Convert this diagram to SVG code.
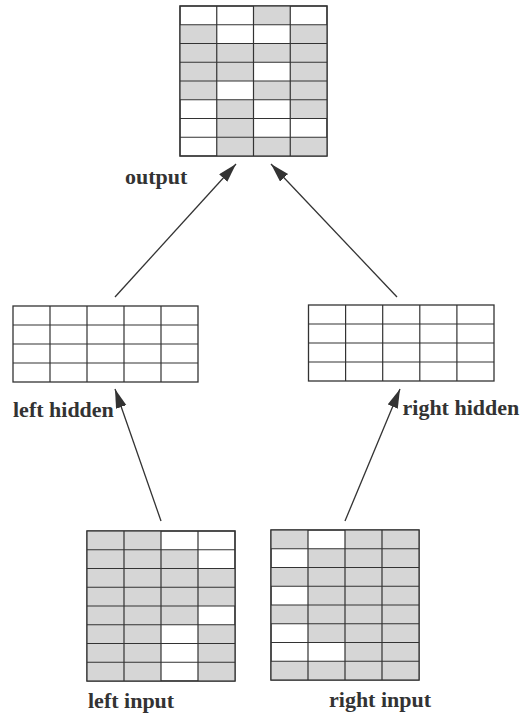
<svg xmlns="http://www.w3.org/2000/svg" width="520" height="715" viewBox="0 0 520 715">
  <style>
    .frame { fill: #ffffff; stroke: #333333; stroke-width: 1.3; }
    .grid { fill: none; stroke: #333333; stroke-width: 1.2; }
    .on { fill: #d6d6d6; }
    .label { font-family: "Liberation Serif", "Times New Roman", serif; font-weight: bold; font-size: 22px; fill: #333333; }
    .link { stroke: #333333; stroke-width: 1.3; fill: none; marker-end: url(#head); }
  </style>
  <defs>
    <marker id="head" markerUnits="userSpaceOnUse" markerWidth="20" markerHeight="12" refX="19" refY="5.5" orient="auto">
      <path d="M0,0 L19,5.5 L0,11 z" fill="#333333"/>
    </marker>
  </defs>
  <rect width="520" height="715" fill="#ffffff"/>

  <!-- output layer: 4 x 8 units -->
  <g id="output" transform="translate(180,6)">
    <rect class="frame" x="0" y="0" width="147" height="150"/>
    <rect class="on" x="73.5" y="0" width="36.75" height="18.75"/>
    <rect class="on" x="0" y="18.75" width="36.75" height="18.75"/>
    <rect class="on" x="110.25" y="18.75" width="36.75" height="18.75"/>
    <rect class="on" x="0" y="37.5" width="147" height="18.75"/>
    <rect class="on" x="0" y="56.25" width="73.5" height="18.75"/>
    <rect class="on" x="110.25" y="56.25" width="36.75" height="18.75"/>
    <rect class="on" x="0" y="75" width="36.75" height="18.75"/>
    <rect class="on" x="73.5" y="75" width="73.5" height="18.75"/>
    <rect class="on" x="36.75" y="93.75" width="36.75" height="18.75"/>
    <rect class="on" x="110.25" y="93.75" width="36.75" height="18.75"/>
    <rect class="on" x="36.75" y="112.5" width="36.75" height="18.75"/>
    <rect class="on" x="36.75" y="131.25" width="110.25" height="18.75"/>
    <path class="grid" d="M36.75,0V150M73.5,0V150M110.25,0V150M0,18.75H147M0,37.5H147M0,56.25H147M0,75H147M0,93.75H147M0,112.5H147M0,131.25H147"/>
    <rect class="grid" x="0" y="0" width="147" height="150"/>
    <text class="label" x="-55" y="178">output</text>
  </g>

  <!-- left hidden layer: 5 x 4 units -->
  <g id="left-hidden" transform="translate(13,306)">
    <rect class="frame" x="0" y="0" width="185" height="76"/>
    <path class="grid" d="M37,0V76M74,0V76M111,0V76M148,0V76M0,19H185M0,38H185M0,57H185"/>
    <text class="label" x="0" y="111">left hidden</text>
  </g>

  <!-- right hidden layer: 5 x 4 units -->
  <g id="right-hidden" transform="translate(308.5,305)">
    <rect class="frame" x="0" y="0" width="185.5" height="76"/>
    <path class="grid" d="M37.1,0V76M74.2,0V76M111.3,0V76M148.4,0V76M0,19H185.5M0,38H185.5M0,57H185.5"/>
    <text class="label" x="94" y="110">right hidden</text>
  </g>

  <!-- left input layer: 4 x 8 units -->
  <g id="left-input" transform="translate(87,531)">
    <rect class="frame" x="0" y="0" width="148" height="150"/>
    <rect class="on" x="0" y="0" width="74" height="150"/>
    <rect class="on" x="74" y="18.75" width="37" height="75"/>
    <rect class="on" x="111" y="37.5" width="37" height="37.5"/>
    <rect class="on" x="111" y="93.75" width="37" height="56.25"/>
    <path class="grid" d="M37,0V150M74,0V150M111,0V150M0,18.75H148M0,37.5H148M0,56.25H148M0,75H148M0,93.75H148M0,112.5H148M0,131.25H148"/>
    <rect class="grid" x="0" y="0" width="148" height="150"/>
    <text class="label" x="1" y="177">left input</text>
  </g>

  <!-- right input layer: 4 x 8 units -->
  <g id="right-input" transform="translate(271,530)">
    <rect class="frame" x="0" y="0" width="148" height="150"/>
    <rect class="on" x="74" y="0" width="74" height="150"/>
    <rect class="on" x="37" y="18.75" width="37" height="93.75"/>
    <rect class="on" x="37" y="131.25" width="37" height="18.75"/>
    <rect class="on" x="0" y="0" width="37" height="18.75"/>
    <rect class="on" x="0" y="37.5" width="37" height="18.75"/>
    <rect class="on" x="0" y="75" width="37" height="18.75"/>
    <rect class="on" x="0" y="131.25" width="37" height="18.75"/>
    <path class="grid" d="M37,0V150M74,0V150M111,0V150M0,18.75H148M0,37.5H148M0,56.25H148M0,75H148M0,93.75H148M0,112.5H148M0,131.25H148"/>
    <rect class="grid" x="0" y="0" width="148" height="150"/>
    <text class="label" x="58" y="177">right input</text>
  </g>

  <!-- connections between layers -->
  <g id="connectors">
    <line class="link" x1="115" y1="297" x2="236" y2="164"/>
    <line class="link" x1="397" y1="297" x2="271" y2="164"/>
    <line class="link" x1="161" y1="521" x2="115" y2="389"/>
    <line class="link" x1="345" y1="521" x2="400" y2="389"/>
  </g>
</svg>
